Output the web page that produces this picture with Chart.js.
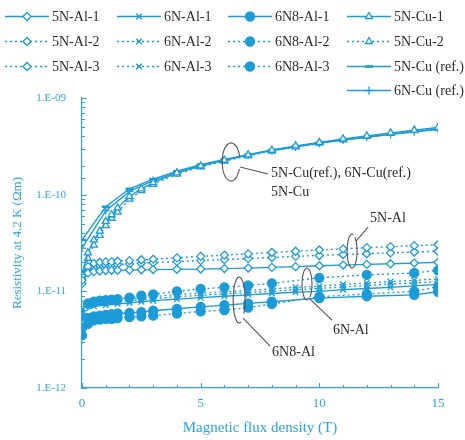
<!DOCTYPE html>
<html><head><meta charset="utf-8">
<script src="https://cdn.jsdelivr.net/npm/chart.js@4/dist/chart.umd.min.js"></script>
<style>html,body{margin:0;padding:0;background:#fff}#wrap{width:465px;height:440px;position:relative}</style>
</head><body><div id="wrap"><canvas id="c"></canvas></div>
<script>
// ---------- DATA ----------
const B_CU     = [0, 0.25, 0.5, 0.75, 1, 1.25, 1.5, 2, 2.5, 3, 4, 5, 6, 7, 8, 9, 10, 11, 12, 13, 14, 15];
const B_REF    = [0, 1, 2, 3, 4, 5, 6, 7, 8, 9, 10, 11, 12, 13, 14, 15];
const B_5NAL   = [0, 0.25, 0.5, 0.75, 1, 1.25, 1.5, 2, 2.5, 3, 4, 5, 6, 7, 8, 9, 10, 11, 12, 13, 14, 15];
const B_6NAL   = [0, 0.5, 1, 1.5, 2, 2.5, 3, 4, 5, 6, 7, 8, 9, 10, 11, 12, 13, 14, 15];
const B_6N8AL  = [0, 0.25, 0.5, 0.75, 1, 1.25, 1.5, 2, 2.5, 3, 4, 5, 6, 7, 8, 10, 12, 14, 15];

const RHO_5N_AL_1 = [1.3e-11, 1.55e-11, 1.6e-11, 1.62e-11, 1.64e-11, 1.65e-11, 1.65e-11, 1.66e-11, 1.67e-11, 1.68e-11, 1.69e-11, 1.7e-11, 1.72e-11, 1.74e-11, 1.77e-11, 1.8e-11, 1.84e-11, 1.87e-11, 1.9e-11, 1.93e-11, 1.96e-11, 2.0e-11];
const RHO_5N_AL_2 = [1.45e-11, 1.8e-11, 1.95e-11, 2.0e-11, 2.02e-11, 2.03e-11, 2.05e-11, 2.08e-11, 2.12e-11, 2.15e-11, 2.22e-11, 2.3e-11, 2.37e-11, 2.44e-11, 2.52e-11, 2.6e-11, 2.68e-11, 2.75e-11, 2.83e-11, 2.9e-11, 2.97e-11, 3.03e-11];
const RHO_5N_AL_3 = [1.2e-11, 1.65e-11, 1.8e-11, 1.85e-11, 1.87e-11, 1.88e-11, 1.9e-11, 1.92e-11, 1.95e-11, 1.98e-11, 2.03e-11, 2.08e-11, 2.13e-11, 2.18e-11, 2.24e-11, 2.3e-11, 2.35e-11, 2.4e-11, 2.45e-11, 2.5e-11, 2.55e-11, 2.6e-11];

const RHO_6N_AL_1 = [6.0e-12, 7.0e-12, 7.2e-12, 7.4e-12, 7.6e-12, 7.8e-12, 8.0e-12, 8.3e-12, 8.6e-12, 8.9e-12, 9.2e-12, 9.5e-12, 9.8e-12, 1.0e-11, 1.04e-11, 1.07e-11, 1.1e-11, 1.14e-11, 1.18e-11];
const RHO_6N_AL_2 = [6.5e-12, 7.8e-12, 8.0e-12, 8.2e-12, 8.4e-12, 8.6e-12, 8.8e-12, 9.3e-12, 9.6e-12, 9.9e-12, 1.02e-11, 1.06e-11, 1.1e-11, 1.13e-11, 1.18e-11, 1.22e-11, 1.26e-11, 1.3e-11, 1.34e-11];
const RHO_6N_AL_3 = [6.2e-12, 7.4e-12, 7.6e-12, 7.8e-12, 8.0e-12, 8.2e-12, 8.4e-12, 8.8e-12, 9.1e-12, 9.4e-12, 9.7e-12, 1.0e-11, 1.04e-11, 1.07e-11, 1.11e-11, 1.15e-11, 1.19e-11, 1.22e-11, 1.26e-11];

const RHO_6N8_AL_1 = [4.2e-12, 5.3e-12, 5.5e-12, 5.6e-12, 5.7e-12, 5.8e-12, 5.9e-12, 6.0e-12, 6.1e-12, 6.3e-12, 6.6e-12, 6.9e-12, 7.2e-12, 7.5e-12, 7.8e-12, 8.5e-12, 8.9e-12, 9.2e-12, 9.9e-12];
const RHO_6N8_AL_2 = [5.5e-12, 7.5e-12, 7.8e-12, 8.0e-12, 8.1e-12, 8.2e-12, 8.3e-12, 8.6e-12, 9.0e-12, 9.3e-12, 1.0e-11, 1.06e-11, 1.1e-11, 1.15e-11, 1.21e-11, 1.38e-11, 1.48e-11, 1.55e-11, 1.65e-11];
const RHO_6N8_AL_3 = [3.5e-12, 4.6e-12, 5.0e-12, 5.1e-12, 5.2e-12, 5.2e-12, 5.3e-12, 5.4e-12, 5.5e-12, 5.6e-12, 5.9e-12, 6.2e-12, 6.4e-12, 6.8e-12, 7.4e-12, 8.8e-12, 9.4e-12, 1.0e-11, 1.12e-11];

const RHO_5N_CU_1 = [1.5e-11, 2.5e-11, 3.4e-11, 4.2e-11, 5.3e-11, 6.2e-11, 7.3e-11, 9.6e-11, 1.15e-10, 1.33e-10, 1.68e-10, 1.98e-10, 2.27e-10, 2.58e-10, 2.88e-10, 3.2e-10, 3.48e-10, 3.78e-10, 4.05e-10, 4.35e-10, 4.65e-10, 4.95e-10];
const RHO_5N_CU_2 = [1.4e-11, 2.2e-11, 3.0e-11, 3.8e-11, 4.8e-11, 5.7e-11, 6.6e-11, 9.0e-11, 1.1e-10, 1.28e-10, 1.63e-10, 1.94e-10, 2.22e-10, 2.52e-10, 2.82e-10, 3.12e-10, 3.42e-10, 3.7e-10, 4.0e-10, 4.3e-10, 4.6e-10, 4.9e-10];
const RHO_5N_CU_REF = [3.4e-11, 7.5e-11, 1.15e-10, 1.45e-10, 1.75e-10, 2.05e-10, 2.32e-10, 2.6e-10, 2.9e-10, 3.15e-10, 3.45e-10, 3.7e-10, 3.95e-10, 4.2e-10, 4.5e-10, 4.75e-10];
const RHO_6N_CU_REF = [2.8e-11, 6.8e-11, 1.08e-10, 1.4e-10, 1.7e-10, 2.0e-10, 2.28e-10, 2.56e-10, 2.85e-10, 3.12e-10, 3.4e-10, 3.67e-10, 3.93e-10, 4.2e-10, 4.47e-10, 4.73e-10];

const X_TICK_LABELS = ['0', '5', '10', '15'];
const Y_TICK_LABELS = ['1.E-12', '1.E-11', '1.E-10', '1.E-09'];

// Series list: label, field array, values array
const SERIES = [
  ['5N-Al-1', B_5NAL, RHO_5N_AL_1], ['5N-Al-2', B_5NAL, RHO_5N_AL_2], ['5N-Al-3', B_5NAL, RHO_5N_AL_3],
  ['6N-Al-1', B_6NAL, RHO_6N_AL_1], ['6N-Al-2', B_6NAL, RHO_6N_AL_2], ['6N-Al-3', B_6NAL, RHO_6N_AL_3],
  ['6N8-Al-1', B_6N8AL, RHO_6N8_AL_1], ['6N8-Al-2', B_6N8AL, RHO_6N8_AL_2], ['6N8-Al-3', B_6N8AL, RHO_6N8_AL_3],
  ['5N-Cu-1', B_CU, RHO_5N_CU_1], ['5N-Cu-2', B_CU, RHO_5N_CU_2],
  ['5N-Cu (ref.)', B_REF, RHO_5N_CU_REF], ['6N-Cu (ref.)', B_REF, RHO_6N_CU_REF]
];

// Legend grid (rows x columns)
const LEGEND_ROWS = [
  ['5N-Al-1', '6N-Al-1', '6N8-Al-1', '5N-Cu-1'],
  ['5N-Al-2', '6N-Al-2', '6N8-Al-2', '5N-Cu-2'],
  ['5N-Al-3', '6N-Al-3', '6N8-Al-3', '5N-Cu (ref.)'],
  [null, null, null, '6N-Cu (ref.)']
];

// Callout labels with anchor (field, resistivity)
const CALLOUT_TEXT = [['5N-Cu(ref.), 6N-Cu(ref.)', '5N-Cu'], ['5N-Al'], ['6N-Al'], ['6N8-Al']];
const CALLOUT_B    = [6.28, 11.38, 9.48, 6.62];
const CALLOUT_RHO  = [2.18e-10, 2.61e-11, 1.19e-11, 8.13e-12];

// ---------- STYLES ----------
const BLUE = '#1b9bd7';
const AXIS = '#2aa5dd';
const SERIF = '"Liberation Serif", "DejaVu Serif", serif';
const STYLE = {
  '5N-Al-1':  {dash: [], ps: 'rectRot', r: 4, fill: '#fff'},
  '5N-Al-2':  {dash: [2, 3], ps: 'rectRot', r: 4, fill: '#fff'},
  '5N-Al-3':  {dash: [2, 3], ps: 'rectRot', r: 4, fill: '#fff'},
  '6N-Al-1':  {dash: [], ps: 'crossRot', r: 4, fill: BLUE},
  '6N-Al-2':  {dash: [2, 3], ps: 'crossRot', r: 4, fill: BLUE},
  '6N-Al-3':  {dash: [2, 3], ps: 'crossRot', r: 4, fill: BLUE},
  '6N8-Al-1': {dash: [], ps: 'circle', r: 4.5, fill: BLUE},
  '6N8-Al-2': {dash: [2, 3], ps: 'circle', r: 4.5, fill: BLUE},
  '6N8-Al-3': {dash: [2, 3], ps: 'circle', r: 4.5, fill: BLUE},
  '5N-Cu-1':  {dash: [], ps: 'triangle', r: 4, fill: '#fff'},
  '5N-Cu-2':  {dash: [2, 3], ps: 'triangle', r: 4, fill: '#fff'},
  '5N-Cu (ref.)': {dash: [], ps: 'line', r: 4, fill: BLUE, bw: 2.5},
  '6N-Cu (ref.)': {dash: [], ps: 'cross', r: 4, fill: BLUE}
};
const CALLOUT_GEOM = [
  {rx: 9, ry: 19, a0: 0.12, a1: 1.9, l: [9, 5, 37, 12], t: [40, 11]},
  {rx: 5, ry: 17, a0: -0.3, a1: 1.6, l: [4, -10, 16, -24], t: [18, -33]},
  {rx: 5, ry: 16, a0: 0.45, a1: 2.3, l: [2, 14, 25, 36], t: [26, 46]},
  {rx: 6, ry: 23, a0: 0.4, a1: 2.2, l: [4, 18, 31, 46], t: [33, 52]}
];

const datasets = SERIES.map(([label, bs, rs]) => {
  const s = STYLE[label];
  return {
    label,
    data: bs.map((b, i) => ({x: b, y: rs[i]})),
    borderColor: BLUE, borderWidth: 1.35, borderDash: s.dash,
    pointStyle: s.ps, pointRadius: s.r, pointHoverRadius: s.r,
    pointBackgroundColor: s.fill, pointBorderColor: BLUE, pointBorderWidth: s.bw || 1.3,
    tension: 0, fill: false
  };
});

// ---------- PLUGINS ----------
const isDecade = v => { const l = Math.log10(v); return Math.abs(l - Math.round(l)) < 1e-6; };

const axisTicks = {
  id: 'axisTicks',
  afterDraw(chart) {
    const {ctx, chartArea: ca, scales: {x, y}} = chart;
    ctx.save(); ctx.strokeStyle = AXIS; ctx.lineWidth = 1; ctx.setLineDash([]);
    ctx.beginPath();
    x.ticks.forEach(t => {
      const px = Math.round(x.getPixelForValue(t.value)) + 0.5;
      const len = (t.value % 5 === 0) ? 5 : 3;
      ctx.moveTo(px, ca.bottom); ctx.lineTo(px, ca.bottom - len);
    });
    y.ticks.forEach(t => {
      const py = Math.round(y.getPixelForValue(t.value)) + 0.5;
      const len = isDecade(t.value) ? 5 : 3;
      ctx.moveTo(ca.left, py); ctx.lineTo(ca.left + len, py);
    });
    ctx.stroke(); ctx.restore();
  }
};

const customLegend = {
  id: 'customLegend',
  afterDraw(chart) {
    const {ctx} = chart;
    const colX = [5, 117, 228, 347];
    const rowY = [16, 41, 66, 90];
    ctx.save();
    ctx.font = '14px ' + SERIF; ctx.textBaseline = 'middle'; ctx.textAlign = 'left';
    LEGEND_ROWS.forEach((row, ri) => row.forEach((label, ci) => {
      if (!label) return;
      const ds = chart.data.datasets.find(d => d.label === label);
      const x0 = colX[ci], y0 = rowY[ri];
      ctx.strokeStyle = BLUE; ctx.lineWidth = 1.4; ctx.setLineDash(ds.borderDash);
      ctx.beginPath(); ctx.moveTo(x0, y0 + 0.5); ctx.lineTo(x0 + 44, y0 + 0.5); ctx.stroke();
      ctx.setLineDash([]);
      ctx.fillStyle = ds.pointBackgroundColor; ctx.strokeStyle = BLUE; ctx.lineWidth = ds.pointBorderWidth;
      Chart.helpers.drawPoint(ctx, {pointStyle: ds.pointStyle, radius: ds.pointRadius, borderWidth: ds.pointBorderWidth, rotation: 0}, x0 + 22, y0 + 0.5);
      ctx.fillStyle = '#2b2b2b';
      ctx.fillText(label, x0 + 47, y0 + 1);
    }));
    ctx.restore();
  }
};

const callouts = {
  id: 'callouts',
  afterDatasetsDraw(chart) {
    const {ctx, scales: {x, y}} = chart;
    ctx.save();
    ctx.strokeStyle = '#555'; ctx.lineWidth = 1.1; ctx.setLineDash([]);
    ctx.fillStyle = '#2b2b2b'; ctx.font = '14px ' + SERIF;
    ctx.textBaseline = 'middle'; ctx.textAlign = 'left';
    CALLOUT_TEXT.forEach((lines, i) => {
      const g = CALLOUT_GEOM[i];
      const cx = x.getPixelForValue(CALLOUT_B[i]), cy = y.getPixelForValue(CALLOUT_RHO[i]);
      ctx.beginPath(); ctx.ellipse(cx, cy, g.rx, g.ry, 0, g.a0 * Math.PI, g.a1 * Math.PI); ctx.stroke();
      ctx.beginPath(); ctx.moveTo(cx + g.l[0], cy + g.l[1]); ctx.lineTo(cx + g.l[2], cy + g.l[3]); ctx.stroke();
      lines.forEach((t, k) => ctx.fillText(t, cx + g.t[0], cy + g.t[1] + k * 19));
    });
    ctx.restore();
  }
};

// ---------- CHART ----------
new Chart(document.getElementById('c'), {
  type: 'line',
  data: {datasets},
  plugins: [axisTicks, callouts, customLegend],
  options: {
    responsive: true, maintainAspectRatio: false, animation: false,
    layout: {padding: {top: 98, right: 27, left: 0, bottom: 0}},
    plugins: {legend: {display: false}, tooltip: {enabled: false}},
    scales: {
      x: {
        type: 'linear', min: 0, max: 15,
        afterFit: s => { s.height = 52; },
        grid: {display: false, drawTicks: false},
        border: {display: true, color: AXIS, width: 1.2},
        ticks: {
          stepSize: 1, autoSkip: false, maxRotation: 0, padding: 8, color: AXIS,
          font: {family: SERIF, size: 13},
          callback: v => (v % 5 === 0 ? X_TICK_LABELS[v / 5] : '')
        },
        title: {display: true, text: 'Magnetic flux density (T)', color: AXIS,
                font: {family: SERIF, size: 15}, padding: {top: 0, bottom: 3}}
      },
      y: {
        type: 'logarithmic', min: 1e-12, max: 1e-9,
        afterFit: s => { s.width = 82; },
        grid: {display: false, drawTicks: false},
        border: {display: true, color: AXIS, width: 1.2},
        ticks: {
          autoSkip: false, padding: 16, color: AXIS,
          font: {family: SERIF, size: 11},
          callback: v => (isDecade(v) ? Y_TICK_LABELS[Math.round(Math.log10(v)) + 12] : '')
        },
        title: {display: true, text: 'Resistivity at 4.2 K (\u03A9m)', color: AXIS,
                font: {family: SERIF, size: 13}, padding: {top: 9.7, bottom: 0}}
      }
    }
  }
});
</script>
</body></html>
